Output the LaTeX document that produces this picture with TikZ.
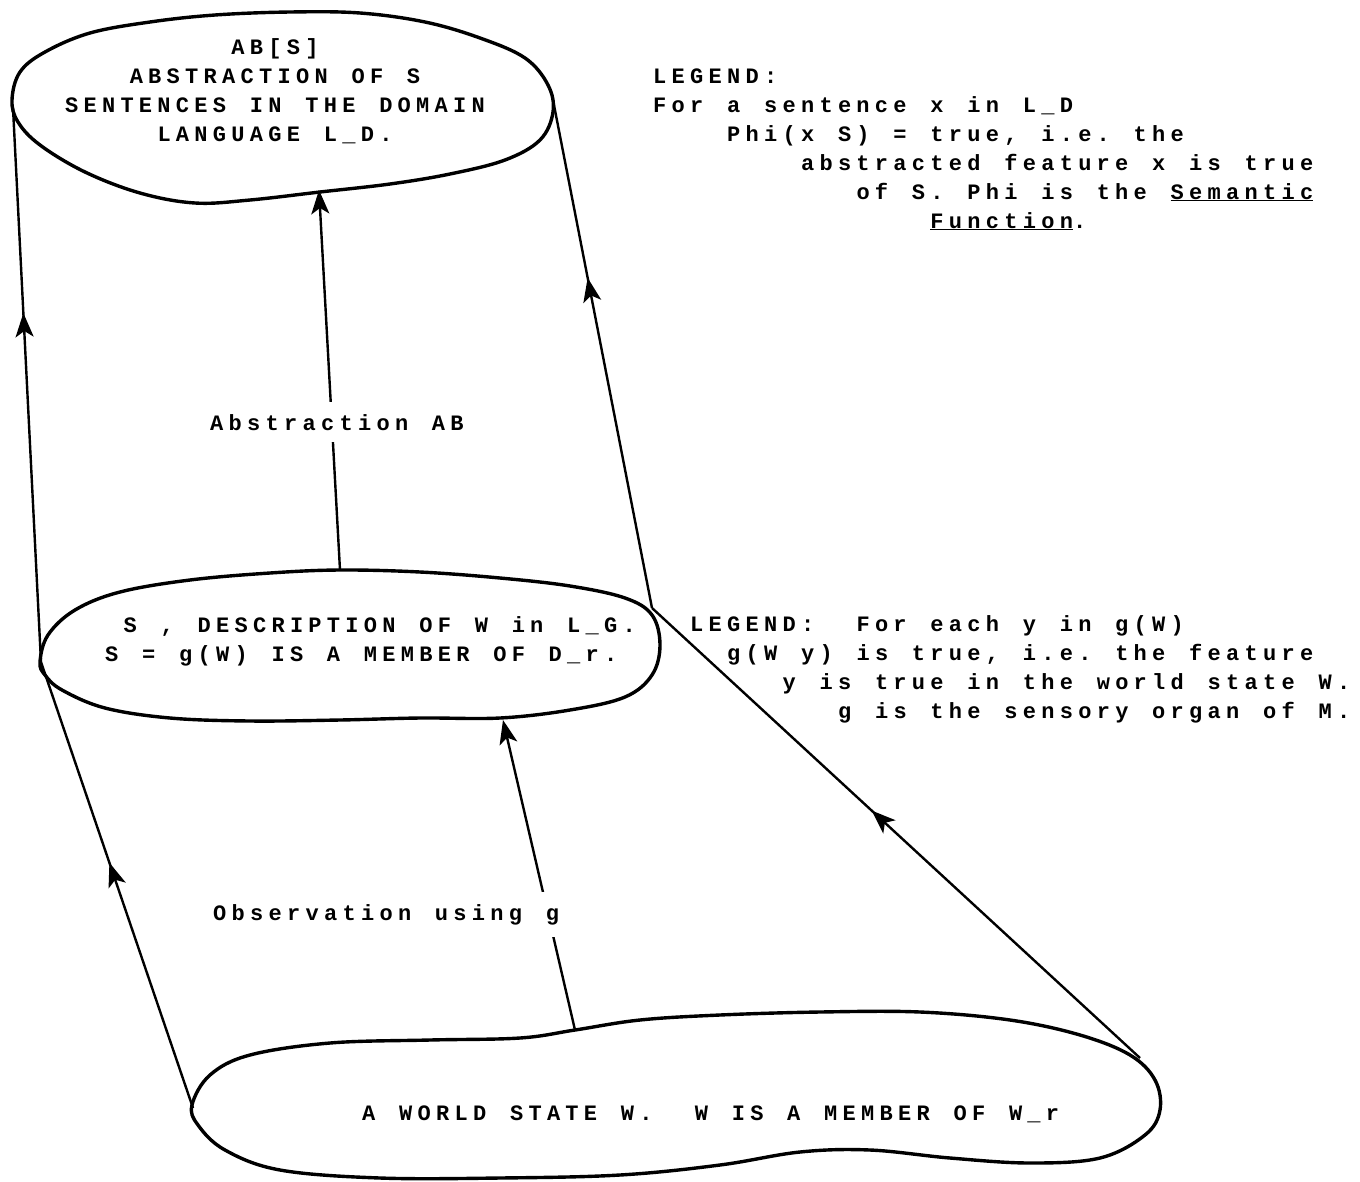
\documentclass[tikz,border=0pt]{standalone}
\usepackage{fontspec}
\usetikzlibrary{arrows.meta,decorations.markings}

\newfontfamily\typerfont{Liberation Mono}[LetterSpace=24]
\newlength\cw
\newlength\gw
\newlength\sw
\newcommand\typer{\typerfont\bfseries\fontsize{22}{29}\selectfont\frenchspacing
  \fontdimen2\font=\sw\fontdimen3\font=0pt\fontdimen4\font=0pt}
\newcommand\ind[1]{\hspace*{#1\cw}}

\begin{document}
\settowidth\gw{\typerfont\bfseries\fontsize{22}{29}\selectfont M}
\settowidth\cw{\typerfont\bfseries\fontsize{22}{29}\selectfont MM}
\addtolength\cw{-\gw}
\setlength\sw{2\cw}
\addtolength\sw{-\gw}
\begin{tikzpicture}[x=1pt,y=-1pt,>={Stealth[length=24pt,width=18pt,inset=6pt]},
    blob/.style={line width=3.4pt,line join=round},
    link/.style={line width=2.4pt},
    midarrow/.style={postaction={decorate},decoration={markings,mark=at position #1 with {\arrow{>}}}},
    txt/.style={font=\typer,inner sep=0pt},
    arrowlabel/.style={font=\typer,fill=white,inner xsep=2pt,inner ysep=12pt}]
    \useasboundingbox (0,0) rectangle (1360,1181);

    \draw[blob] plot[smooth cycle,tension=.6] coordinates {
        (12,100) (20,72) (45,52) (90,33) (150,22) (215,15) (290,12) (360,13)
        (425,22) (480,38) (525,58) (548,85) (553,112) (540,140) (505,160)
        (450,174) (390,184) (320,192) (250,200) (195,203) (140,193) (85,172)
        (40,145) (18,122)};
    \draw[blob] plot[smooth cycle,tension=.6] coordinates {
        (40,662) (48,635) (75,610) (120,592) (190,580) (270,573) (340,570)
        (420,572) (500,578) (570,586) (625,598) (652,615) (660,645) (652,675)
        (625,697) (570,710) (500,718) (420,718) (340,720) (250,721) (170,718)
        (105,708) (62,690) (45,675)};
    \draw[blob] plot[smooth cycle,tension=.6] coordinates {
        (192,1105) (210,1075) (250,1055) (330,1043) (430,1040) (520,1038)
        (575,1030) (640,1020) (720,1015) (820,1012) (920,1012) (1010,1020)
        (1080,1035) (1130,1055) (1155,1080) (1160,1110) (1145,1135) (1100,1158)
        (1030,1163) (950,1158) (870,1150) (800,1152) (720,1165) (620,1175)
        (500,1178) (380,1178) (280,1170) (225,1150) (198,1125)};

    \coordinate (top l) at (13,108);
    \coordinate (top r) at (553,100);
    \coordinate (top b) at (319,190);
    \coordinate (mid l) at (41,662);
    \coordinate (mid r) at (652,608);
    \coordinate (mid t) at (340,570);
    \coordinate (mid b) at (503,720);
    \coordinate (bot l) at (193,1108);
    \coordinate (bot r) at (1140,1058);
    \coordinate (bot t) at (575,1030);

    \path[link]
        (mid l) edge[midarrow=.63] (top l)
        (mid r) edge[midarrow=.65] (top r)
        (bot l) edge[midarrow=.55] (mid l)
        (bot r) edge[midarrow=.55] (mid r)
        (mid t) edge[->] (top b)
        (bot t) edge[->] (mid b);

    \node[arrowlabel,anchor=base west] (ab) at (208,430) {Abstraction AB};
    \node[arrowlabel,anchor=base west] (obs) at (211,920) {Observation using g};

    \node[txt,align=center,anchor=base] (abs) at (275,141)
        {AB[S]\\ABSTRACTION OF S\\SENTENCES IN THE DOMAIN\\LANGUAGE L\_D.};
    \node[txt,align=left,anchor=base west] (desc) at (105,661)
        {\ind{1}S , DESCRIPTION OF W in L\_G.\\S = g(W) IS A MEMBER OF D\_r.};
    \node[txt,anchor=base west] (world) at (362,1120)
        {A WORLD STATE W.\ind{1} W IS A MEMBER OF W\_r};

    \node[txt,align=left,anchor=base west] (legend ab) at (653,228)
        {LEGEND:\\For a sentence x in L\_D\\\ind{4}Phi(x S) = true, i.e. the\\
        \ind{8}abstracted feature x is true\\\ind{11}of S. Phi is the \underline{Semantic}\\
        \ind{15}\underline{Function}.};
    \node[txt,align=left,anchor=base west] (legend g) at (690,718)
        {LEGEND:\ind{1} For each y in g(W)\\\ind{2}g(W y) is true, i.e. the feature\\
        \ind{5}y is true in the world state W.\\\ind{8}g is the sensory organ of M.};
\end{tikzpicture}
\end{document}
